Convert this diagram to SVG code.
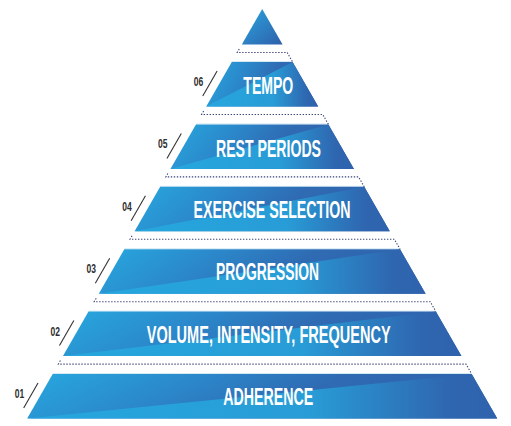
<svg xmlns="http://www.w3.org/2000/svg" width="511" height="426" viewBox="0 0 511 426">
<style>
.up{fill:url(#gU)}
.lo{fill:url(#gL)}
.hl{stroke:#d3e9f6;stroke-width:1;fill:none}
.lbl{font-family:"Liberation Sans",Arial,sans-serif;font-weight:bold;font-size:24px;fill:#ffffff;text-anchor:middle}
.num{font-family:"Liberation Sans",Arial,sans-serif;font-weight:bold;font-size:12px;fill:#2e2e2e;text-anchor:end}
.sl{stroke:#333333;stroke-width:1.1;fill:none}
.dot{stroke:#3a4676;stroke-width:1.1;fill:none;stroke-dasharray:1.4 1.6}
</style>
<defs>
<linearGradient id="gU" x1="0" y1="0" x2="1" y2="0.2">
<stop offset="0" stop-color="#27a8df"/>
<stop offset="0.35" stop-color="#2b89cb"/>
<stop offset="0.65" stop-color="#2f6bb3"/>
<stop offset="1" stop-color="#2f62ad"/>
</linearGradient>
<linearGradient id="gL" x1="0" y1="0" x2="1" y2="0">
<stop offset="0" stop-color="#26a7de"/>
<stop offset="0.6" stop-color="#289cd6"/>
<stop offset="0.9" stop-color="#2f66b0"/>
<stop offset="1" stop-color="#2f62ad"/>
</linearGradient>
<linearGradient id="gA" x1="0" y1="0" x2="1" y2="1">
<stop offset="0" stop-color="#29a6de"/>
<stop offset="1" stop-color="#2f5fab"/>
</linearGradient>
</defs>

<g id="apex">
<polygon points="262.2,9 282.58,44.5 241.82,44.5" fill="url(#gA)"/>
</g>

<g id="tier06">
<line class="hl" x1="231.78" y1="61.5" x2="292.62" y2="61.5"/>
<polygon class="up" points="231.78,62 292.62,62 318.17,106.5 206.24,106.5"/>
<polygon class="lo" points="206.24,106.5 318.17,106.5 292.62,62"/>
<text class="lbl" x="268.3" y="94.3" textLength="50" lengthAdjust="spacingAndGlyphs">TEMPO</text>
<text class="num" x="203.3" y="86" textLength="9.5" lengthAdjust="spacingAndGlyphs">06</text>
<line class="sl" x1="217.11" y1="71" x2="202.76" y2="96"/>
</g>

<g id="tier05">
<line class="hl" x1="195.96" y1="123.9" x2="328.44" y2="123.9"/>
<polygon class="up" points="195.96,124.4 328.44,124.4 353.98,168.9 170.42,168.9"/>
<polygon class="lo" points="170.42,168.9 353.98,168.9 328.44,124.4"/>
<text class="lbl" x="268.5" y="156.5" textLength="105" lengthAdjust="spacingAndGlyphs">REST PERIODS</text>
<text class="num" x="167.5" y="148.4" textLength="9.5" lengthAdjust="spacingAndGlyphs">05</text>
<line class="sl" x1="181.29" y1="133.4" x2="166.94" y2="158.4"/>
</g>

<g id="tier04">
<line class="hl" x1="160.14" y1="186.3" x2="364.26" y2="186.3"/>
<polygon class="up" points="160.14,186.8 364.26,186.8 389.8,231.3 134.6,231.3"/>
<polygon class="lo" points="134.6,231.3 389.8,231.3 364.26,186.8"/>
<text class="lbl" x="272" y="218" textLength="157" lengthAdjust="spacingAndGlyphs">EXERCISE SELECTION</text>
<text class="num" x="131.7" y="210.8" textLength="9.5" lengthAdjust="spacingAndGlyphs">04</text>
<line class="sl" x1="145.48" y1="195.8" x2="131.13" y2="220.8"/>
</g>

<g id="tier03">
<line class="hl" x1="124.33" y1="248.7" x2="400.07" y2="248.7"/>
<polygon class="up" points="124.33,249.2 400.07,249.2 425.62,293.7 98.78,293.7"/>
<polygon class="lo" points="98.78,293.7 425.62,293.7 400.07,249.2"/>
<text class="lbl" x="267.5" y="280.3" textLength="103" lengthAdjust="spacingAndGlyphs">PROGRESSION</text>
<text class="num" x="95.9" y="273.2" textLength="9.5" lengthAdjust="spacingAndGlyphs">03</text>
<line class="sl" x1="109.67" y1="258.2" x2="95.32" y2="283.2"/>
</g>

<g id="tier02">
<line class="hl" x1="88.51" y1="311.1" x2="435.89" y2="311.1"/>
<polygon class="up" points="88.51,311.6 435.89,311.6 461.43,356.1 62.97,356.1"/>
<polygon class="lo" points="62.97,356.1 461.43,356.1 435.89,311.6"/>
<text class="lbl" x="268.7" y="342.6" textLength="244" lengthAdjust="spacingAndGlyphs">VOLUME, INTENSITY, FREQUENCY</text>
<text class="num" x="60" y="335.6" textLength="9.5" lengthAdjust="spacingAndGlyphs">02</text>
<line class="sl" x1="73.84" y1="320.6" x2="59.49" y2="345.6"/>
</g>

<g id="tier01">
<line class="hl" x1="52.69" y1="373.5" x2="471.71" y2="373.5"/>
<polygon class="up" points="52.69,374 471.71,374 497.25,418.5 27.15,418.5"/>
<polygon class="lo" points="27.15,418.5 497.25,418.5 471.71,374"/>
<text class="lbl" x="268.3" y="405" textLength="90" lengthAdjust="spacingAndGlyphs">ADHERENCE</text>
<text class="num" x="24.2" y="398" textLength="9.5" lengthAdjust="spacingAndGlyphs">01</text>
<line class="sl" x1="38.02" y1="383" x2="23.67" y2="408"/>
</g>

<g id="connectors">
<path class="dot" d="M239.24,49 L237.23,52.5 H287.17 L292.62,62"/>
<path class="dot" d="M203.65,111 L201.64,114.5 H322.76 L328.44,124.4"/>
<path class="dot" d="M167.83,173.4 L165.83,176.9 H358.57 L364.26,186.8"/>
<path class="dot" d="M132.02,235.8 L130.01,239.3 H394.39 L400.07,249.2"/>
<path class="dot" d="M96.2,298.2 L94.19,301.7 H430.21 L435.89,311.6"/>
<path class="dot" d="M60.38,360.6 L58.37,364.1 H466.03 L471.71,374"/>
</g>
</svg>
